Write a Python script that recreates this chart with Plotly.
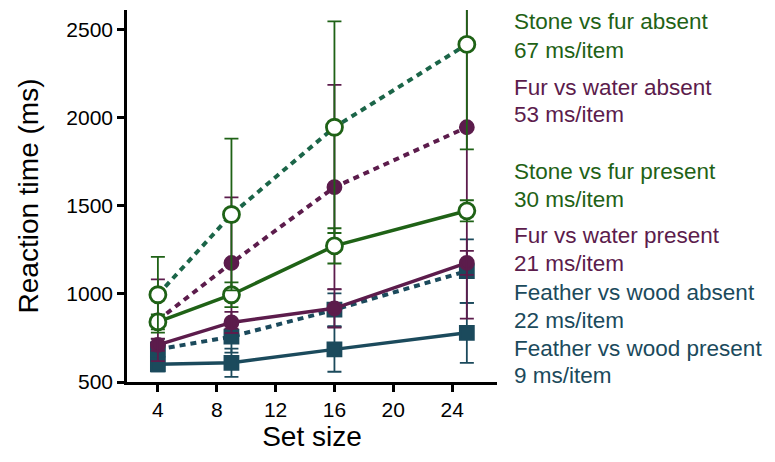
import plotly.graph_objects as go

set_size = [4, 9, 16, 25]

stone_absent = [995, 1450, 1945, 2415]
stone_absent_err = [215, 430, 600, 595]
fur_absent = [850, 1175, 1605, 1945]
fur_absent_err = [232, 372, 580, 1085]
stone_present = [841, 995, 1272, 1471]
stone_present_err = [42, 70, 100, 60]
fur_present = [711, 838, 918, 1176]
fur_present_err = [35, 60, 109, 68]
feather_absent = [685, 757, 910, 1129]
feather_absent_err = [60, 90, 93, 180]
feather_present = [600, 609, 685, 779]
feather_present_err = [40, 80, 127, 170]

label_lines = [
    "Stone vs fur absent", "67 ms/item",
    "Fur vs water absent", "53 ms/item",
    "Stone vs fur present", "30 ms/item",
    "Fur vs water present", "21 ms/item",
    "Feather vs wood absent", "22 ms/item",
    "Feather vs wood present", "9 ms/item",
]

GREEN = "#1f6216"
GREEN_DASH = "#1b6548"
PURPLE = "#5c1c4c"
TEAL = "#1b4a5c"
label_colors = [GREEN, GREEN, PURPLE, PURPLE, GREEN, GREEN,
                PURPLE, PURPLE, TEAL, TEAL, TEAL, TEAL]

fig = go.Figure()

def add(y, err, color, ecolor, dash, symbol, fill, msize):
    fig.add_trace(go.Scatter(
        x=set_size, y=y, mode="lines+markers",
        line=dict(color=color, width=4 if dash else 3.5, dash=dash),
        marker=dict(symbol=symbol, size=msize, color=fill,
                    line=dict(color=ecolor, width=2.8)),
        error_y=dict(type="data", array=err, visible=True,
                     color=ecolor, thickness=1.8, width=7),
        showlegend=False,
    ))

add(feather_present, feather_present_err, TEAL, TEAL, None, "square", TEAL, 13)
add(feather_absent, feather_absent_err, TEAL, TEAL, "6px,5px", "square", TEAL, 13)
add(fur_present, fur_present_err, PURPLE, PURPLE, None, "circle", PURPLE, 13)
add(fur_absent, fur_absent_err, PURPLE, PURPLE, "6px,5px", "circle", PURPLE, 13)
add(stone_present, stone_present_err, GREEN, GREEN, None, "circle", "white", 16)
add(stone_absent, stone_absent_err, GREEN_DASH, GREEN, "6px,5px", "circle", "white", 16)

# pixel y (centre) of each text line in the reference
label_py = [22, 50, 87, 115, 172, 199, 235, 263, 292, 320, 348, 375]
plot_top, plot_bottom, plot_left, plot_right = 10, 382, 127, 497
for txt, py, c in zip(label_lines, label_py, label_colors):
    fig.add_annotation(
        x=(512 - plot_left) / (plot_right - plot_left),
        y=(plot_bottom - py) / (plot_bottom - plot_top),
        xref="paper", yref="paper", xanchor="left", yanchor="middle",
        text=txt, showarrow=False, align="left",
        font=dict(color=c, size=22.5, family="Liberation Sans, Arial, sans-serif"),
    )

fig.update_layout(
    width=775, height=462,
    margin=dict(l=plot_left, r=775 - plot_right, t=plot_top, b=462 - plot_bottom),
    plot_bgcolor="white", paper_bgcolor="white",
    font=dict(family="Liberation Sans, Arial, sans-serif", color="black", size=21),
    xaxis=dict(range=[1.9, 27.05], tickvals=[4, 8, 12, 16, 20, 24],
               showline=True, linecolor="black", linewidth=2.5,
               ticks="outside", ticklen=7, tickwidth=2.5, tickcolor="black",
               showgrid=False, zeroline=False,
               title=dict(text="Set size", font=dict(size=28), standoff=6)),
    yaxis=dict(range=[500, 2610], tickvals=[500, 1000, 1500, 2000, 2500],
               showline=True, linecolor="black", linewidth=2.5,
               ticks="outside", ticklen=7, tickwidth=2.5, tickcolor="black",
               showgrid=False, zeroline=False,
               title=dict(text="Reaction time (ms)", font=dict(size=28), standoff=20)),
)

fig.write_html("out.html")
